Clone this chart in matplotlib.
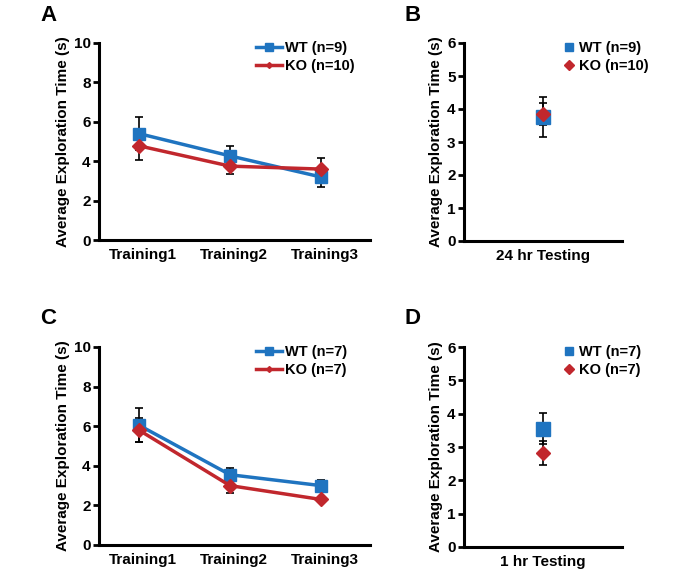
import numpy as np
import matplotlib.pyplot as plt

# Panel A / C: training sessions
sessions = ["Training1", "Training2", "Training3"]

wt_a = [5.4, 4.27, 3.2]
wt_a_err = [0.85, 0.48, 0.5]
ko_a = [4.78, 3.75, 3.6]
ko_a_err = [0.73, 0.42, 0.58]

wt_c = [6.05, 3.55, 3.0]
wt_c_err = [0.85, 0.35, 0.3]
ko_c = [5.8, 3.0, 2.3]
ko_c_err = [0.6, 0.35, 0.1]

# Panel B / D: testing
wt_b, wt_b_err = 3.75, 0.6
ko_b, ko_b_err = 3.85, 0.32
wt_d, wt_d_err = 3.55, 0.47
ko_d, ko_d_err = 2.82, 0.35

BLUE = "#1f74c0"
RED = "#c1272d"

plt.rcParams["font.family"] = ["Liberation Sans", "DejaVu Sans"]
plt.rcParams["font.weight"] = "bold"

fig = plt.figure(figsize=(6.95, 5.71), dpi=100)
W, H = 695, 571


def add_ax(left, right, top, bottom):
    return fig.add_axes([left / W, 1 - bottom / H, (right - left) / W, (bottom - top) / H])


def style(ax, ymax, step):
    for s in ["top", "right"]:
        ax.spines[s].set_visible(False)
    for s in ["left", "bottom"]:
        ax.spines[s].set_linewidth(2.2)
    ax.set_ylim(0, ymax)
    ax.set_yticks(np.arange(0, ymax + 0.01, step))
    ax.tick_params(axis="y", width=2, length=4, labelsize=11, pad=2)
    ax.tick_params(axis="x", length=0, labelsize=11, pad=6)
    ax.set_ylabel("Average Exploration Time (s)", fontsize=11, fontweight="bold", labelpad=3)


def line_panel(ax, wt, wt_err, ko, ko_err, n_wt, n_ko):
    x = np.arange(len(sessions))
    ax.errorbar(x, wt, yerr=wt_err, fmt="none", ecolor="black", elinewidth=1.2, capsize=3, capthick=1.2)
    ax.errorbar(x, ko, yerr=ko_err, fmt="none", ecolor="black", elinewidth=1.2, capsize=3, capthick=1.2)
    ax.plot(x, wt, color=BLUE, lw=2.5, marker="s", ms=8, zorder=3)
    ax.plot(x, ko, color=RED, lw=2.5, marker="D", ms=7, zorder=4)
    # legend handles with small markers
    h1, = ax.plot([], [], color=BLUE, lw=2.5, marker="s", ms=6)
    h2, = ax.plot([], [], color=RED, lw=2.5, marker="D", ms=3)
    ax.legend([h1, h2], [f"WT (n={n_wt})", f"KO (n={n_ko})"], loc="upper left",
              bbox_to_anchor=(0.54, 1.06), frameon=False, fontsize=10.5,
              handlelength=1.8, handletextpad=0.25, labelspacing=0.25, borderpad=0.2)
    ax.set_xlim(-0.44, 2.54)
    ax.set_xticks(x + 0.04)
    ax.set_xticklabels(sessions)
    style(ax, 10, 2)


def point_panel(ax, wt, wt_err, ko, ko_err, n_wt, n_ko, label):
    ax.errorbar([0], [wt], yerr=[wt_err], fmt="none", ecolor="black", elinewidth=1.2, capsize=3, capthick=1.2)
    ax.errorbar([0], [ko], yerr=[ko_err], fmt="none", ecolor="black", elinewidth=1.2, capsize=3, capthick=1.2)
    ax.plot([0], [wt], color=BLUE, marker="s", ms=10, ls="none", zorder=3)
    ax.plot([0], [ko], color=RED, marker="D", ms=7, ls="none", zorder=4)
    h1, = ax.plot([], [], color=BLUE, marker="s", ms=6, ls="none")
    h2, = ax.plot([], [], color=RED, marker="D", ms=5, ls="none")
    ax.legend([h1, h2], [f"WT (n={n_wt})", f"KO (n={n_ko})"], loc="upper left",
              bbox_to_anchor=(0.57, 1.06), frameon=False, fontsize=10.5,
              handlelength=0.6, handletextpad=0.4, labelspacing=0.25, borderpad=0.2)
    ax.set_xlim(-1, 1)
    ax.set_xticks([0])
    ax.set_xticklabels([label])
    style(ax, 6, 1)


axA = add_ax(99, 370, 43, 240)
line_panel(axA, wt_a, wt_a_err, ko_a, ko_a_err, 9, 10)
axB = add_ax(464, 622, 43, 241)
point_panel(axB, wt_b, wt_b_err, ko_b, ko_b_err, 9, 10, "24 hr Testing")
axC = add_ax(99, 370, 347, 545)
line_panel(axC, wt_c, wt_c_err, ko_c, ko_c_err, 7, 7)
axD = add_ax(464, 622, 347, 547)
point_panel(axD, wt_d, wt_d_err, ko_d, ko_d_err, 7, 7, "1 hr Testing")

for lab, (px, py) in zip("ABCD", [(40, 5), (405, 5), (40, 308), (405, 308)]):
    fig.text(px / W, 1 - py / H, lab, fontsize=16, fontweight="bold", va="top", ha="left")

fig.savefig("out.png", dpi=100)
